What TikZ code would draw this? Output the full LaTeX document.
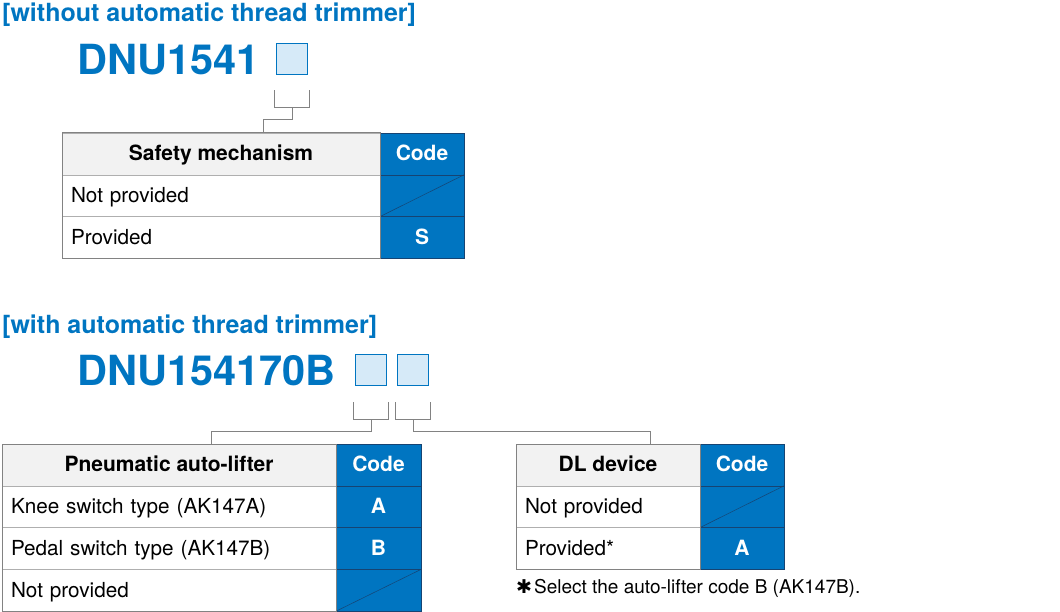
\documentclass[tikz,border=0pt]{standalone}
\usepackage{fontspec}
\setmainfont{TeX Gyre Heros}
\newfontfamily\symfont{DejaVu Sans}
\usetikzlibrary{positioning, calc}
\definecolor{codeblue}{RGB}{0,117,193}
\definecolor{boxfill}{RGB}{214,234,248}
\definecolor{headgray}{RGB}{242,242,242}
\definecolor{gridgray}{RGB}{175,175,175}
\definecolor{framegray}{RGB}{130,130,130}
\definecolor{codeline}{RGB}{22,68,115}

\begin{document}
\begin{tikzpicture}[x=1pt, y=1pt,
        heading/.style={anchor=base west, inner sep=0pt, text=codeblue, font=\fontsize{25}{30}\selectfont\bfseries},
        model/.style={anchor=base west, inner sep=0pt, text=codeblue, font=\fontsize{41.5}{50}\selectfont\bfseries},
        digit/.style={draw=codeblue, fill=boxfill, line width=1.2pt, minimum size=31pt, inner sep=0pt},
        link/.style={draw=framegray, line width=1pt},
        headcell/.style={draw=gridgray, fill=headgray, minimum height=41.8pt, inner sep=0pt, outer sep=0pt, font=\fontsize{21}{24}\selectfont\bfseries, text height=17pt, text depth=3pt},
        codecell/.style={draw=codeline, fill=codeblue, text=white, minimum width=84pt, minimum height=41.8pt, inner sep=0pt, outer sep=0pt, font=\fontsize{21}{24}\selectfont\bfseries, text height=17pt, text depth=3pt},
        rowcell/.style={draw=gridgray, minimum height=41.8pt, inner xsep=9pt, inner ysep=0pt, outer sep=0pt, align=left, font=\fontsize{20.7}{24}\selectfont, text height=17pt, text depth=3pt},
        slash/.style={draw=codeline, line width=0.5pt},
        frame/.style={draw=framegray, line width=1pt}
    ]
        \useasboundingbox (0,0) rectangle (1060,-612);

        % without automatic thread trimmer
        \node[heading] (head1) at (2,-22) {[without automatic thread trimmer]};
        \node[model] (model1) at (77,-75) {DNU1541};
        \node[digit] (box1) at (292,-59) {};

        \node[headcell, minimum width=318pt, anchor=north west] (safety) at (62,-133) {Safety mechanism};
        \node[codecell, right=0pt of safety] (safetycode) {Code};
        \node[rowcell, text width=300pt, below=0pt of safety] (safety1) {Not provided};
        \node[codecell, below=0pt of safetycode] (safetycode1) {};
        \node[rowcell, text width=300pt, below=0pt of safety1] (safety2) {Provided};
        \node[codecell, below=0pt of safetycode1] (safetycode2) {S};
        \draw[slash] (safetycode1.south west) -- (safetycode1.north east);
        \draw[frame] (safety.north west) rectangle (safety2.south east);

        \coordinate (top1) at ($(safety.north west)!0.5!(safetycode.north east)$);
        \draw[link] ([xshift=-1pt, yshift=-15pt]box1.south west) -- ++(0,-17) -| ([xshift=1pt, yshift=-15pt]box1.south east);
        \draw[link] ([yshift=-32pt]box1.south) -- ++(0,-12) -| (top1);

        % with automatic thread trimmer
        \node[heading] (head2) at (2,-333) {[with automatic thread trimmer]};
        \node[model] (model2) at (77,-385) {DNU154170B};
        \node[digit] (box2) at (371,-370) {};
        \node[digit] (box3) at (413,-370) {};

        \node[headcell, minimum width=334pt, anchor=north west] (lifter) at (2,-444) {Pneumatic auto-lifter};
        \node[codecell, minimum width=85pt, right=0pt of lifter] (liftercode) {Code};
        \node[rowcell, text width=316pt, below=0pt of lifter] (lifter1) {Knee switch type (AK147A)};
        \node[codecell, minimum width=85pt, below=0pt of liftercode] (liftercode1) {A};
        \node[rowcell, text width=316pt, below=0pt of lifter1] (lifter2) {Pedal switch type (AK147B)};
        \node[codecell, minimum width=85pt, below=0pt of liftercode1] (liftercode2) {B};
        \node[rowcell, text width=316pt, below=0pt of lifter2] (lifter3) {Not provided};
        \node[codecell, minimum width=85pt, below=0pt of liftercode2] (liftercode3) {};
        \draw[slash] (liftercode3.south west) -- (liftercode3.north east);
        \draw[frame] (lifter.north west) rectangle (lifter3.south east);

        \node[headcell, minimum width=184pt, anchor=north west] (dl) at (516,-444) {DL device};
        \node[codecell, right=0pt of dl] (dlcode) {Code};
        \node[rowcell, text width=166pt, below=0pt of dl] (dl1) {Not provided};
        \node[codecell, below=0pt of dlcode] (dlcode1) {};
        \node[rowcell, text width=166pt, below=0pt of dl1] (dl2) {Provided*};
        \node[codecell, below=0pt of dlcode1] (dlcode2) {A};
        \draw[slash] (dlcode1.south west) -- (dlcode1.north east);
        \draw[frame] (dl.north west) rectangle (dl2.south east);

        \node[anchor=west, inner sep=0pt, font=\fontsize{19}{22}\selectfont] (note) at (516,-588) {{\symfont ✱}\kern2pt Select the auto-lifter code B (AK147B).};

        \coordinate (top2) at ($(lifter.north west)!0.5!(liftercode.north east)$);
        \coordinate (top3) at ($(dl.north west)!0.5!(dlcode.north east)$);
        \draw[link] ([xshift=-1pt, yshift=-16pt]box2.south west) -- ++(0,-17) -| ([xshift=1pt, yshift=-16pt]box2.south east);
        \draw[link] ([xshift=-1pt, yshift=-16pt]box3.south west) -- ++(0,-17) -| ([xshift=1pt, yshift=-16pt]box3.south east);
        \draw[link] ([yshift=-33pt]box2.south) -- ++(0,-12) -| (top2);
        \draw[link] ([yshift=-33pt]box3.south) -- ++(0,-12) -| (top3);
    \end{tikzpicture}
\end{document}
